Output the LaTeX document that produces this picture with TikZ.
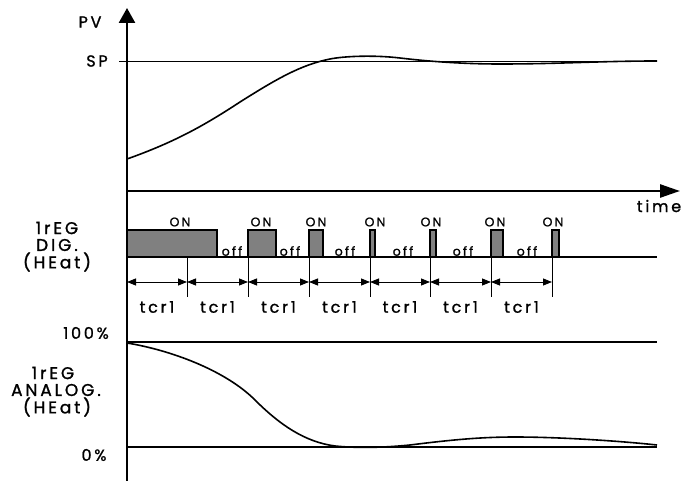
\documentclass[tikz,border=0pt]{standalone}
\usepackage{fontspec}
\setmainfont{Poppins}[LetterSpace=17, FakeBold=1.2]
\usetikzlibrary{arrows.meta}

\begin{document}
\begin{tikzpicture}[x=1pt, y=-1pt,
    axis/.style={line width=2.6pt},
    level/.style={line width=2pt},
    curve/.style={line width=1.6pt},
    pulse/.style={draw, line width=1.6pt, fill=black!50},
    tick/.style={line width=0.6pt},
    period/.style={{Triangle[length=9pt,width=7pt]}-{Triangle[length=9pt,width=7pt]}, line width=0.8pt},
    label/.style={font=\fontsize{16}{18}\selectfont, inner sep=0pt},
    side/.style={font=\fontsize{17}{19}\selectfont, inner sep=0pt},
    small/.style={font=\fontsize{12.5}{14}\selectfont, inner sep=0pt}]

\useasboundingbox (0,0) rectangle (685,481);

% Axes
\coordinate (origin) at (127,481);
\coordinate (pvtop) at (127,8);
\coordinate (tstart) at (127,191);
\coordinate (tend) at (680,191);
\draw[axis, -{Triangle[length=15pt,width=16pt]}] (origin) -- (pvtop);
\draw[axis, -{Triangle[length=20pt,width=13pt]}] (tstart) -- (tend);
\node[label] (pv) at (90,22) {PV};
\node[label] (time) at (659,206) {time};

% Process value
\node[label] (sp) at (97,61) {SP};
\draw[line width=0.6pt] (119,61) -- (657,61);
\draw[curve] (127,159) .. controls (175,142) and (205,125) .. (240,102)
  .. controls (275,80) and (300,65) .. (330,59)
  .. controls (345,56) and (375,55) .. (400,58)
  .. controls (425,61) and (460,64) .. (500,64)
  .. controls (560,64) and (600,61) .. (657,61);

% Digital output
\node[side] (dig1) at (57,228) {1rEG};
\node[side] (dig2) at (57,245) {DIG.};
\node[side] (dig3) at (57,262) {(HEat)};
\foreach \a/\b/\c [count=\i] in {127/217/180, 248/276/261, 309/323/316, 370/375/375, 430/436/431, 491/503/495, 552/559/553}
  \filldraw[pulse] (\a,257) rectangle (\b,230) node[small] (on\i) at (\c,222) {ON};
\draw[level] (127,257) -- (657,257);
\foreach \c [count=\i] in {232, 290, 345, 403, 463, 527}
  \node[small] (off\i) at (\c,251) {off};

% Cycle time
\foreach \x in {187, 248, 309, 370, 430, 491, 552}
  \draw[tick] (\x,257) -- (\x,297);
\foreach \a/\b [count=\i] in {127/187, 187/248, 248/309, 309/370, 370/430, 430/491, 491/552} {
  \draw[period] (\a,282) -- (\b,282);
  \node[label] (tcr\i) at ({(\a+\b)/2},307) {tcr1};
}

% Analog output
\node[label] (full) at (86,333) {100\%};
\node[side] (ana1) at (53,373) {1rEG};
\node[side] (ana2) at (56,390) {ANALOG.};
\node[side] (ana3) at (57,407) {(HEat)};
\node[label] (zero) at (94,455) {0\%};
\draw[level] (127,342) -- (657,342);
\draw[level] (127,447) -- (657,447);
\draw[curve] (127,343) .. controls (170,350) and (225,370) .. (255,400)
  .. controls (280,425) and (305,442) .. (335,446)
  .. controls (355,448) and (380,448) .. (410,445)
  .. controls (450,440) and (480,437) .. (515,437)
  .. controls (560,437) and (620,441) .. (657,445);
\end{tikzpicture}
\end{document}
